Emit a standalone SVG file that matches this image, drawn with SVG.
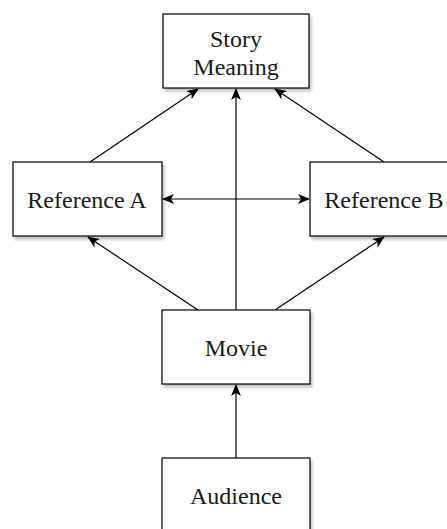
<svg xmlns="http://www.w3.org/2000/svg" width="447" height="529" viewBox="0 0 447 529">
<defs>
<marker id="ah" viewBox="0 0 12 10" refX="11" refY="5" markerWidth="12" markerHeight="10" markerUnits="userSpaceOnUse" orient="auto-start-reverse">
<path d="M0,0 L12,5 L0,10 L3,5 Z" fill="#000"/>
</marker>
<filter id="sh" x="-10%" y="-10%" width="130%" height="130%">
<feGaussianBlur in="SourceAlpha" stdDeviation="1.5"/>
<feOffset dx="2" dy="3" result="b"/>
<feComponentTransfer><feFuncA type="linear" slope="0.25"/></feComponentTransfer>
<feMerge><feMergeNode/><feMergeNode in="SourceGraphic"/></feMerge>
</filter>
</defs>
<style>
.box{fill:#fff;stroke:#000;stroke-width:1.2;filter:url(#sh)}
.t{font-family:"Liberation Serif","Times New Roman",serif;font-size:24px;fill:#1a1a1a;text-anchor:middle}
.c{stroke:#000;stroke-width:1.2;fill:none;marker-end:url(#ah)}
</style>
<rect width="447" height="529" fill="#fff"/>
<g id="connectors">
<line class="c" x1="236" y1="310" x2="236" y2="89"/>
<line class="c" x1="198" y1="310" x2="88" y2="237"/>
<line class="c" x1="275" y1="310" x2="384" y2="237"/>
<line class="c" x1="90" y1="162" x2="198" y2="89"/>
<line class="c" x1="384" y1="162" x2="275" y2="89"/>
<line class="c" x1="163" y1="199" x2="309" y2="199" marker-start="url(#ah)"/>
<line class="c" x1="236" y1="458" x2="236" y2="385"/>
</g>
<g id="story">
<rect class="box" x="163" y="14" width="146" height="74"/>
<text class="t" x="236" y="47">Story</text>
<text class="t" x="236" y="75">Meaning</text>
</g>
<g id="refA">
<rect class="box" x="13" y="162" width="149" height="74"/>
<text class="t" x="87" y="208">Reference A</text>
</g>
<g id="refB">
<rect class="box" x="310" y="162" width="148" height="74"/>
<text class="t" x="384" y="208">Reference B</text>
</g>
<g id="movie">
<rect class="box" x="162" y="310" width="148" height="74"/>
<text class="t" x="236" y="356">Movie</text>
</g>
<g id="audience">
<rect class="box" x="162" y="458" width="148" height="74"/>
<text class="t" x="236" y="504">Audience</text>
</g>
</svg>
